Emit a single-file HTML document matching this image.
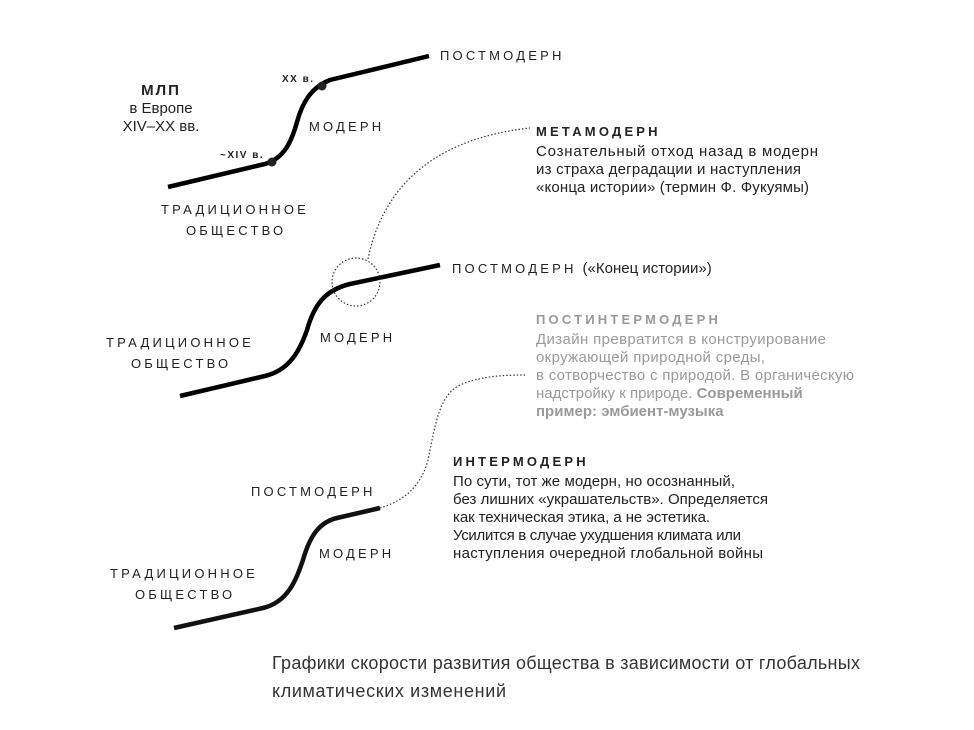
<!DOCTYPE html>
<html><head><meta charset="utf-8"><style>
html,body{margin:0;padding:0;background:#fff;}
svg{display:block;font-family:"Liberation Sans","DejaVu Sans",sans-serif;}
.cap{font-size:13px;letter-spacing:3.2px;fill:#222;}
.h{font-size:13px;font-weight:bold;letter-spacing:3.2px;fill:#222;}
.t{font-size:15px;fill:#222;}
.g{font-size:15px;fill:#9a9a9a;}
</style></head><body>
<svg width="974" height="730" viewBox="0 0 974 730" xmlns="http://www.w3.org/2000/svg">
<g fill="none" stroke="#000" stroke-width="4.5" stroke-linecap="butt">
<path d="M168 187 L265 164 C285 158 292 140 297 122 C302 104 310 88 330 80 L429 56"/>
<path d="M180 396 L265 376 C290 370 300 350 307 330 C314 305 325 290 350 284 L440 265"/>
<path d="M174 628 L263 608 C288 602 296 580 303 560 C310 535 320 522 337 518 L380 508" stroke="#111"/>
</g>
<circle cx="272" cy="162" r="4.5" fill="#222"/>
<circle cx="322" cy="86" r="4.5" fill="#222"/>
<g fill="none" stroke="#333" stroke-width="1.2" stroke-dasharray="1.5 2">
<circle cx="356" cy="282" r="24"/>
<path d="M368 259 C380 200 420 140 530 128"/>
<path d="M380 508 C400 502 420 490 428 460 C436 420 440 395 460 385 C480 376 505 375 525 375"/>
</g>
<text class="cap" x="440" y="60">ПОСТМОДЕРН</text>
<text x="161" y="95" text-anchor="middle" font-size="15" font-weight="bold" letter-spacing="2" fill="#222">МЛП</text>
<text class="t" x="161" y="113" text-anchor="middle">в Европе</text>
<text class="t" x="161" y="131" text-anchor="middle">XIV–XX вв.</text>
<text x="282" y="82" font-size="10" font-weight="bold" letter-spacing="1.5" fill="#222">XX в.</text>
<text x="220" y="158" font-size="10" font-weight="bold" letter-spacing="1.5" fill="#222">~XIV в.</text>
<text class="cap" x="309" y="131">МОДЕРН</text>
<text class="cap" x="161" y="214">ТРАДИЦИОННОЕ</text>
<text class="cap" x="186" y="235">ОБЩЕСТВО</text>
<text class="h" x="536" y="136">МЕТАМОДЕРН</text>
<text class="t" x="536" y="156" textLength="282">Сознательный отход назад в модерн</text>
<text class="t" x="536" y="174" textLength="265">из страха деградации и наступления</text>
<text class="t" x="536" y="192" textLength="273">«конца истории» (термин Ф. Фукуямы)</text>
<text x="452" y="273"><tspan class="cap">ПОСТМОДЕРН</tspan><tspan class="t" dx="6">(«Конец истории»)</tspan></text>
<text class="cap" x="320" y="342">МОДЕРН</text>
<text class="cap" x="106" y="347">ТРАДИЦИОННОЕ</text>
<text class="cap" x="131" y="368">ОБЩЕСТВО</text>
<text x="536" y="324" font-size="13" font-weight="bold" letter-spacing="3.2" fill="#999">ПОСТИНТЕРМОДЕРН</text>
<text class="g" x="536" y="344" textLength="290">Дизайн превратится в конструирование</text>
<text class="g" x="536" y="362" textLength="229">окружающей природной среды,</text>
<text class="g" x="536" y="380" textLength="318">в сотворчество с природой. В органическую</text>
<text class="g" x="536" y="398">надстройку к природе. <tspan font-weight="bold">Современный</tspan></text>
<text class="g" x="536" y="416" font-weight="bold">пример: эмбиент-музыка</text>
<text class="h" x="453" y="466">ИНТЕРМОДЕРН</text>
<text class="t" x="453" y="486" textLength="282">По сути, тот же модерн, но осознанный,</text>
<text class="t" x="453" y="504" textLength="315">без лишних «украшательств». Определяется</text>
<text class="t" x="453" y="522" textLength="257">как техническая этика, а не эстетика.</text>
<text class="t" x="453" y="540" textLength="288">Усилится в случае ухудшения климата или</text>
<text class="t" x="453" y="558" textLength="310">наступления очередной глобальной войны</text>
<text class="cap" x="251" y="496">ПОСТМОДЕРН</text>
<text class="cap" x="319" y="558">МОДЕРН</text>
<text class="cap" x="110" y="578">ТРАДИЦИОННОЕ</text>
<text class="cap" x="135" y="599">ОБЩЕСТВО</text>
<text x="272" y="669" font-size="18" fill="#333" textLength="588">Графики скорости развития общества в зависимости от глобальных</text>
<text x="272" y="697" font-size="18" fill="#333" textLength="234">климатических изменений</text>
</svg>
</body></html>
